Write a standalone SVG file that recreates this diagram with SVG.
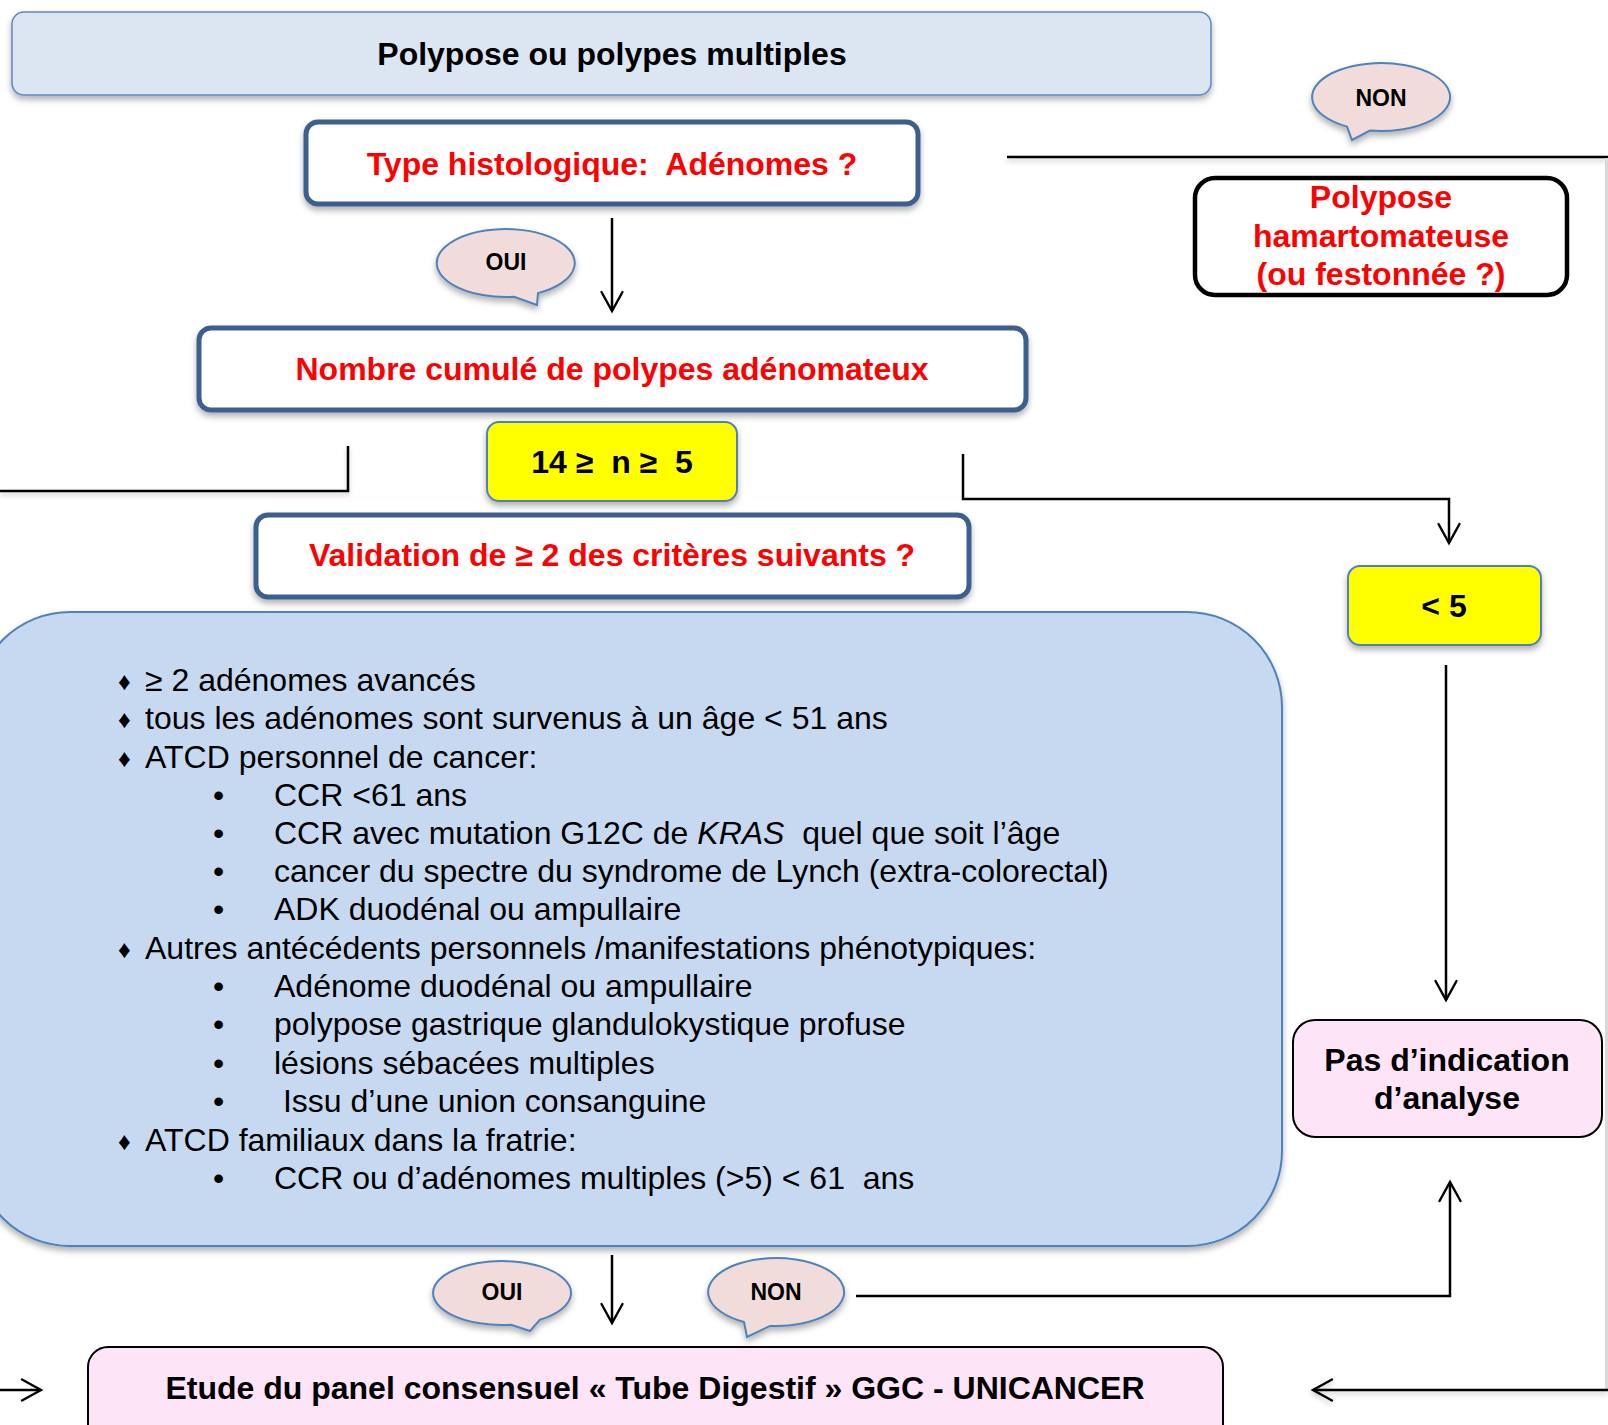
<svg xmlns="http://www.w3.org/2000/svg" width="1608" height="1425" viewBox="0 0 1608 1425">
<defs>
<filter id="sh" x="-10%" y="-20%" width="120%" height="150%">
<feDropShadow dx="0" dy="4" stdDeviation="3" flood-color="#000" flood-opacity="0.3"/>
</filter>
<filter id="lsh" filterUnits="userSpaceOnUse" x="0" y="0" width="1608" height="1425">
<feDropShadow dx="0" dy="3" stdDeviation="2.5" flood-color="#000" flood-opacity="0.22"/>
</filter>
<marker id="ah" viewBox="0 0 24 26" refX="21" refY="13" markerWidth="24" markerHeight="26" markerUnits="userSpaceOnUse" orient="auto">
<path d="M2,2.5 L21,13 L2,23.5" fill="none" stroke="#000" stroke-width="2.4" stroke-linecap="round" stroke-linejoin="miter"/>
</marker>
</defs>
<style>
text{font-family:"Liberation Sans",Arial,sans-serif;white-space:pre}
.b{font-weight:bold;font-size:32px;text-anchor:middle}
.red{fill:#ff0000}
.blk{fill:#000}
.dark{fill:#fff;stroke:#3d5f8f;stroke-width:5}
.bub{fill:#f2dcdb;stroke:#4f81bd;stroke-width:2}
.bt{font-weight:bold;font-size:23px;text-anchor:middle;fill:#000}
.yel{fill:#ffff00;stroke:#4f81bd;stroke-width:2}
.pink{fill:#fde4f7;stroke:#000;stroke-width:2}
.li{font-size:32px;fill:#000}
.dia{font-size:25px;fill:#000}
.con{fill:none;stroke:#000;stroke-width:2.5}
</style>

<g id="connectors">
<line class="con" x1="612" y1="218" x2="612" y2="311" marker-end="url(#ah)"/>
<path class="con" d="M1007,157 L1608,157" filter="url(#lsh)"/>
<line x1="1606.5" y1="158" x2="1606.5" y2="1390" stroke="#d9d9d9" stroke-width="3"/>
<path class="con" d="M1608,1390 L1313,1390" stroke-width="3.5" marker-end="url(#ah)" filter="url(#lsh)"/>
<path class="con" d="M348,446 L348,491 L0,491" filter="url(#lsh)"/>
<path class="con" d="M0,1390 L41,1390" marker-end="url(#ah)"/>
<path class="con" d="M963,454 L963,499 L1449,499 L1449,543" marker-end="url(#ah)"/>
<line class="con" x1="1446" y1="665" x2="1446" y2="1000" marker-end="url(#ah)"/>
<line class="con" x1="612" y1="1255" x2="612" y2="1323" marker-end="url(#ah)"/>
<path class="con" d="M856,1296 L1450,1296 L1450,1182" stroke-width="3" marker-end="url(#ah)"/>
</g>

<g id="title">
<rect x="12" y="12" width="1199" height="83" rx="12" fill="#dce6f2" stroke="#5b87c5" stroke-width="1.5" filter="url(#sh)"/>
<text class="b blk" x="612" y="65">Polypose ou polypes multiples</text>
</g>

<g id="type-histo">
<rect class="dark" x="306" y="122" width="612" height="82" rx="12" filter="url(#sh)"/>
<text class="b red" x="612" y="175">Type histologique:  Adénomes ?</text>
</g>

<g id="bubble-non-top">
<path class="bub" d="M1347,126.6 L1352,140 L1370,130.6 A69 34 0 1 0 1347,126.6 Z" filter="url(#sh)"/>
<text class="bt" x="1381" y="106">NON</text>
</g>

<g id="hamarto">
<rect x="1195" y="178" width="372" height="117" rx="20" fill="#fff" stroke="#000" stroke-width="4.5"/>
<text class="b red" x="1381" y="208">Polypose</text>
<text class="b red" x="1381" y="247">hamartomateuse</text>
<text class="b red" x="1381" y="285">(ou festonnée ?)</text>
</g>

<g id="bubble-oui-top">
<path class="bub" d="M514,296.8 L537,305 L538,293.1 A69 34 0 1 0 514,296.8 Z" filter="url(#sh)"/>
<text class="bt" x="506" y="270">OUI</text>
</g>

<g id="nombre">
<rect class="dark" x="199" y="328" width="827" height="82" rx="12" filter="url(#sh)"/>
<text class="b red" x="612" y="380">Nombre cumulé de polypes adénomateux</text>
</g>

<g id="n14">
<rect class="yel" x="487" y="422" width="250" height="79" rx="12" filter="url(#sh)"/>
<text class="b blk" x="612" y="473">14 ≥  n ≥  5</text>
</g>

<g id="validation">
<rect class="dark" x="256" y="515" width="713" height="82" rx="12" filter="url(#sh)"/>
<text class="b red" x="612" y="566">Validation de ≥ 2 des critères suivants ?</text>
</g>

<g id="lt5">
<rect class="yel" x="1348" y="566" width="193" height="79" rx="12" filter="url(#sh)"/>
<text class="b blk" x="1444" y="617">&lt; 5</text>
</g>

<g id="criteres">
<rect x="-25" y="612" width="1307" height="634" rx="95" fill="#c6d9f1" stroke="#4f81bd" stroke-width="2" filter="url(#sh)"/>
<text class="dia" x="118" y="690">♦</text>
<text class="li" x="145" y="691">≥ 2 adénomes avancés</text>
<text class="dia" x="118" y="728">♦</text>
<text class="li" x="145" y="729">tous les adénomes sont survenus à un âge &lt; 51 ans</text>
<text class="dia" x="118" y="767">♦</text>
<text class="li" x="145" y="768">ATCD personnel de cancer:</text>
<text class="li" x="213" y="806">•</text>
<text class="li" x="274" y="806">CCR &lt;61 ans</text>
<text class="li" x="213" y="844">•</text>
<text class="li" x="274" y="844">CCR avec mutation G12C de <tspan font-style="italic">KRAS</tspan>  quel que soit l’âge</text>
<text class="li" x="213" y="882">•</text>
<text class="li" x="274" y="882">cancer du spectre du syndrome de Lynch (extra-colorectal)</text>
<text class="li" x="213" y="920">•</text>
<text class="li" x="274" y="920">ADK duodénal ou ampullaire</text>
<text class="dia" x="118" y="958">♦</text>
<text class="li" x="145" y="959">Autres antécédents personnels /manifestations phénotypiques:</text>
<text class="li" x="213" y="997">•</text>
<text class="li" x="274" y="997">Adénome duodénal ou ampullaire</text>
<text class="li" x="213" y="1035">•</text>
<text class="li" x="274" y="1035">polypose gastrique glandulokystique profuse</text>
<text class="li" x="213" y="1074">•</text>
<text class="li" x="274" y="1074">lésions sébacées multiples</text>
<text class="li" x="213" y="1112">•</text>
<text class="li" x="274" y="1112"> Issu d’une union consanguine</text>
<text class="dia" x="118" y="1150">♦</text>
<text class="li" x="145" y="1151">ATCD familiaux dans la fratrie:</text>
<text class="li" x="213" y="1189">•</text>
<text class="li" x="274" y="1189">CCR ou d’adénomes multiples (&gt;5) &lt; 61  ans</text>
</g>

<g id="pas-indication">
<rect class="pink" x="1293" y="1020" width="309" height="117" rx="22"/>
<text class="b blk" x="1447" y="1071">Pas d’indication</text>
<text class="b blk" x="1447" y="1109">d’analyse</text>
</g>

<g id="bubble-oui-bottom">
<path class="bub" d="M511,1324.7 L530,1331 L540,1319.7 A69 32 0 1 0 511,1324.7 Z" filter="url(#sh)"/>
<text class="bt" x="502" y="1300">OUI</text>
</g>

<g id="bubble-non-bottom">
<path class="bub" d="M744,1322 L747,1337 L770,1325.9 A68 34 0 1 0 744,1322 Z" filter="url(#sh)"/>
<text class="bt" x="776" y="1300">NON</text>
</g>

<g id="etude">
<rect class="pink" x="88" y="1347" width="1135" height="100" rx="20"/>
<text class="b blk" x="655" y="1399">Etude du panel consensuel « Tube Digestif » GGC - UNICANCER</text>
</g>
</svg>
